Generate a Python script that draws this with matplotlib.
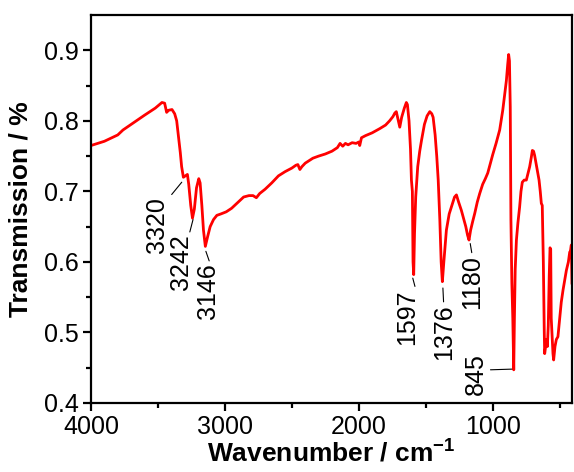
import numpy as np
import matplotlib.pyplot as plt

plt.rcParams['font.family'] = ['Liberation Sans', 'DejaVu Sans']
plt.rcParams['mathtext.default'] = 'regular'

# FTIR spectrum (wavenumber in cm-1, transmission)
wavenumber = [4000, 3900, 3800, 3761, 3700, 3600, 3520, 3470, 3450, 3435, 3420, 3395,
              3375, 3360, 3345, 3333, 3323, 3310, 3295, 3280, 3270, 3255, 3242, 3228,
              3212, 3195, 3185, 3172, 3160, 3146, 3130, 3110, 3085, 3060, 3030, 2990,
              2950, 2900, 2860, 2820, 2790, 2765, 2740, 2700, 2650, 2600, 2550, 2500,
              2470, 2455, 2440, 2425, 2400, 2343, 2300, 2250, 2200, 2160, 2140, 2120,
              2100, 2080, 2050, 2020, 2000, 1993, 1980, 1950, 1900, 1843, 1800, 1770,
              1745, 1731, 1720, 1705, 1694, 1680, 1660, 1645, 1637, 1625, 1614, 1607,
              1600, 1595, 1590, 1584, 1575, 1560, 1545, 1532, 1510, 1490, 1470, 1455,
              1445, 1430, 1418, 1407, 1395, 1385, 1376, 1365, 1346, 1325, 1308, 1285,
              1271, 1255, 1234, 1215, 1201, 1188, 1177, 1165, 1150, 1134, 1115, 1097,
              1075, 1055, 1037, 1000, 975, 948, 925, 898, 888, 881, 875, 869,
              864, 857, 850, 843, 838, 832, 823, 812, 799, 789, 779, 765,
              749, 735, 724, 712, 704, 695, 687, 670, 654, 645, 637, 630,
              622, 615, 612, 605, 598, 592, 585, 578, 572, 567, 563, 558,
              550, 545, 535, 525, 513, 500, 488, 475, 462, 450, 435, 425,
              420, 413, 410, 408]
transmission = [0.765, 0.771, 0.780, 0.787, 0.795, 0.808, 0.818, 0.826, 0.825, 0.812, 0.815, 0.816,
                0.810, 0.800, 0.775, 0.755, 0.735, 0.720, 0.722, 0.724, 0.710, 0.680, 0.662, 0.675,
                0.705, 0.718, 0.712, 0.680, 0.645, 0.622, 0.635, 0.650, 0.660, 0.666, 0.668, 0.671,
                0.676, 0.685, 0.692, 0.694, 0.694, 0.691, 0.697, 0.703, 0.712, 0.722, 0.728, 0.733,
                0.737, 0.738, 0.731, 0.735, 0.740, 0.747, 0.750, 0.753, 0.757, 0.762, 0.768, 0.764,
                0.768, 0.766, 0.769, 0.768, 0.770, 0.765, 0.776, 0.779, 0.783, 0.789, 0.794, 0.800,
                0.806, 0.811, 0.813, 0.800, 0.791, 0.805, 0.818, 0.826, 0.823, 0.800, 0.760, 0.716,
                0.700, 0.600, 0.582, 0.640, 0.692, 0.735, 0.757, 0.772, 0.795, 0.807, 0.813, 0.810,
                0.805, 0.780, 0.750, 0.716, 0.660, 0.600, 0.572, 0.600, 0.645, 0.668, 0.678, 0.692,
                0.695, 0.685, 0.673, 0.660, 0.650, 0.638, 0.631, 0.645, 0.657, 0.669, 0.685, 0.697,
                0.710, 0.718, 0.726, 0.752, 0.768, 0.787, 0.815, 0.857, 0.880, 0.894, 0.885, 0.820,
                0.660, 0.570, 0.520, 0.447, 0.520, 0.590, 0.631, 0.655, 0.678, 0.700, 0.713, 0.716,
                0.716, 0.727, 0.735, 0.748, 0.758, 0.757, 0.751, 0.733, 0.716, 0.700, 0.683, 0.680,
                0.600, 0.500, 0.470, 0.480, 0.490, 0.480, 0.510, 0.580, 0.620, 0.618, 0.520, 0.500,
                0.470, 0.461, 0.480, 0.490, 0.494, 0.520, 0.543, 0.560, 0.575, 0.588, 0.600, 0.614,
                0.615, 0.624, 0.595, 0.570]

# peak labels: text, point on curve, label centre, corner the leader starts from
peak_labels = ['3320', '3242', '3146', '1597', '1376', '1180', '845']
peak_xy = [(3322, 0.713), (3238, 0.660), (3142, 0.615), (1597, 0.577),
           (1372, 0.563), (1168, 0.626), (858, 0.448)]
label_xy = [(3504, 0.652), (3330, 0.599), (3128, 0.558), (1638, 0.522),
            (1366, 0.500), (1153, 0.571), (1127, 0.441)]
label_rel = [(1, 1), (0.85, 1), (0.6, 1), (0.85, 1), (0.5, 1), (0.5, 1), (1, 0.6)]

fig = plt.figure(figsize=(5.74, 4.72), dpi=100)
ax = fig.add_axes([0.1585, 0.1462, 0.838, 0.822])

ax.plot(wavenumber, transmission, color='#ff0000', lw=2.0)

for lab, xy, txy, rp in zip(peak_labels, peak_xy, label_xy, label_rel):
    ax.annotate(lab, xy=xy, xytext=txy, rotation=90, ha='center', va='center',
                fontsize=18,
                arrowprops=dict(arrowstyle='-', lw=0.8, color='black',
                                relpos=rp, shrinkA=0, shrinkB=0))

ax.set_xlim(4000, 408)
ax.set_ylim(0.4, 0.95)
ax.set_xticks([4000, 3000, 2000, 1000])
ax.set_xticks([3500, 2500, 1500, 500], minor=True)
ax.set_yticks([0.4, 0.5, 0.6, 0.7, 0.8, 0.9])
ax.set_yticks([0.45, 0.55, 0.65, 0.75, 0.85], minor=True)

for s in ax.spines.values():
    s.set_linewidth(1.6)
ax.tick_params(which='major', direction='out', length=6, width=1.6,
               labelsize=18, pad=3)
ax.tick_params(which='minor', direction='out', length=3.5, width=1.6)

ax.set_xlabel('Wavenumber / cm$^{-1}$', fontsize=19, fontweight='bold', labelpad=0)
ax.set_ylabel('Transmission / %', fontsize=19, fontweight='bold', labelpad=8)

fig.savefig('out.png', dpi=100)
